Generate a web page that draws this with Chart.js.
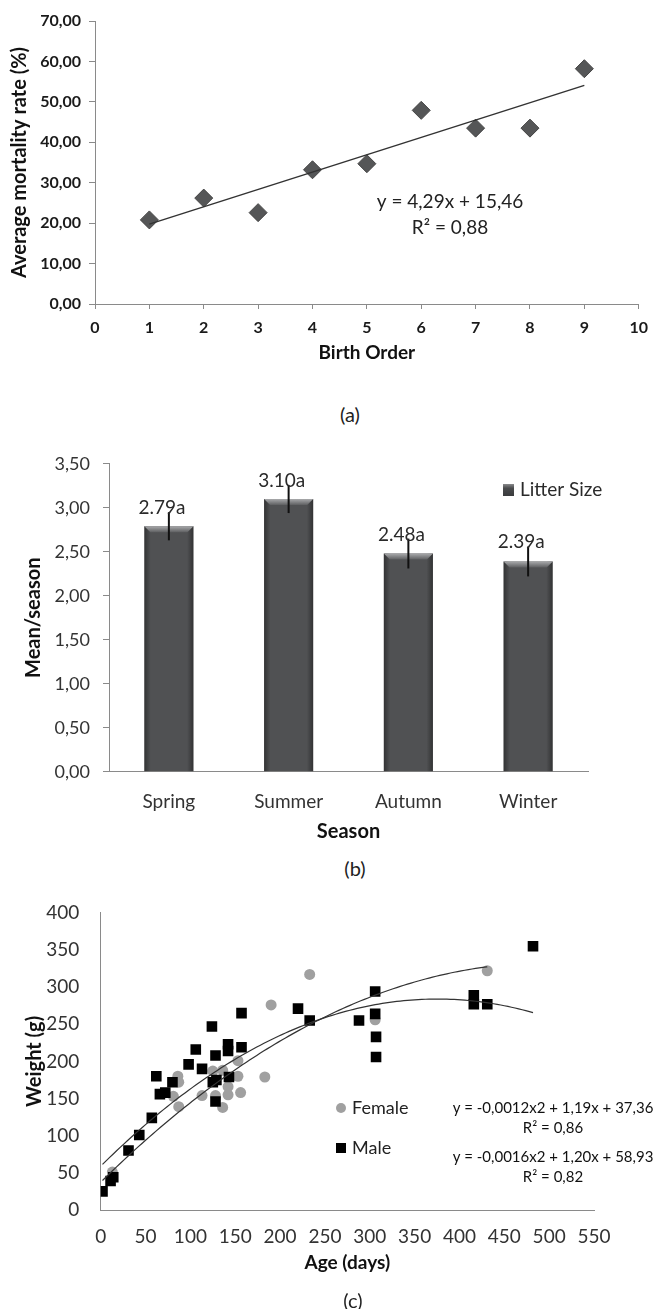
<!DOCTYPE html>
<html>
<head>
<meta charset="utf-8">
<title>Mortality, litter size and growth</title>
<script src="https://cdn.jsdelivr.net/npm/chart.js@4.4.1/dist/chart.umd.min.js"></script>
<style>
  body { margin: 0; background: #fff; }
  #page { position: relative; width: 657px; height: 1309px; overflow: hidden; font-family: Lato, sans-serif; }
  #page canvas { position: absolute; left: 0; }
  .cap { position: absolute; font-size: 20px; color: #222; transform: translate(-50%, -50%); line-height: 1; }
</style>
</head>
<body>
<div id="page">
  <canvas id="chartA" width="657" height="380" style="top:0"></canvas>
  <canvas id="chartB" width="657" height="410" style="top:440px"></canvas>
  <canvas id="chartC" width="657" height="429" style="top:880px"></canvas>
  <div class="cap" style="left:350px; top:414px">(a)</div>
  <div class="cap" style="left:355px; top:868px">(b)</div>
  <div class="cap" style="left:353px; top:1300px">(c)</div>
</div>
<script>
// (a) mortality by birth order
const birthOrder = [1, 2, 3, 4, 5, 6, 7, 8, 9];
const mortalityRate = [20.8, 26.2, 22.6, 33.2, 34.7, 47.9, 43.5, 43.5, 58.2];
const mortalityFit = [4.29, 15.46]; // slope, intercept
const ticksAx = [0, 1, 2, 3, 4, 5, 6, 7, 8, 9, 10];
const ticksAy = [0, 10, 20, 30, 40, 50, 60, 70];

// (b) litter size by season
const seasons = ['Spring', 'Summer', 'Autumn', 'Winter'];
const litterSize = [2.79, 3.10, 2.48, 2.39];
const litterErr = [0.16, 0.16, 0.17, 0.17];
const litterLabels = ['2.79a', '3.10a', '2.48a', '2.39a'];
const ticksBy = [0, 0.5, 1, 1.5, 2, 2.5, 3, 3.5];

// (c) weight by age
const femaleAge = [13, 86, 87, 81, 87, 113, 125, 128, 136, 136, 142, 142, 153, 153, 156, 183, 190, 233, 306, 431];
const femaleWeight = [51, 180, 172, 153, 139, 154, 187, 154, 138, 188, 166, 155, 201, 180, 158, 179, 276, 317, 256, 322];
const maleAge = [2, 11, 14, 31, 43, 57, 62, 66, 72, 80, 98, 106, 113, 124, 128, 125, 129, 128, 142, 142, 143, 157, 157,
                 220, 233, 288, 306, 306, 307, 307, 416, 416, 431, 482];
const maleWeight = [25, 39, 44, 80, 101, 124, 180, 156, 158, 172, 196, 216, 190, 247, 208, 172, 175, 146, 223, 214, 179, 219, 265,
                    271, 255, 255, 294, 264, 233, 206, 289, 277, 277, 355];
const femaleFit = [-0.0012, 1.19, 37.36];
const maleFit = [-0.0016, 1.20, 58.93];
const femaleFitRange = [2, 431];
const maleFitRange = [2, 482];
const ticksCx = [0, 50, 100, 150, 200, 250, 300, 350, 400, 450, 500, 550];
const ticksCy = [0, 50, 100, 150, 200, 250, 300, 350, 400];

Chart.defaults.font.family = 'Lato, sans-serif';
Chart.defaults.animation = false;
Chart.defaults.plugins.legend.display = false;
Chart.defaults.plugins.tooltip.enabled = false;

const comma = v => v.toFixed(2).replace('.', ',');
const useTicks = list => scale => { scale.ticks = list.map(v => ({ value: v })); };
const toPoints = (xs, ys) => xs.map((x, i) => ({ x: x, y: ys[i] }));

function quadCurve(c, range) {
  const pts = [];
  for (let x = range[0]; x < range[1]; x += 4) pts.push({ x: x, y: c[0] * x * x + c[1] * x + c[2] });
  pts.push({ x: range[1], y: c[0] * range[1] * range[1] + c[1] * range[1] + c[2] });
  return pts;
}

function notes(items) {
  return {
    id: 'notes',
    afterDraw(chart) {
      const ctx = chart.ctx;
      ctx.save();
      items.forEach(t => {
        ctx.font = t.font;
        ctx.fillStyle = t.color || '#222';
        ctx.textAlign = t.align || 'center';
        ctx.textBaseline = 'middle';
        ctx.fillText(t.text, t.x, t.y);
      });
      ctx.restore();
    }
  };
}

const axisGray = '#8a8a8a';

// ---------- (a) ----------
new Chart(document.getElementById('chartA'), {
  type: 'scatter',
  data: {
    datasets: [
      {
        label: 'Average mortality rate',
        data: toPoints(birthOrder, mortalityRate),
        pointStyle: 'rectRot',
        pointRadius: 9,
        backgroundColor: '#555657',
        borderColor: '#444',
        borderWidth: 1,
        order: 2
      },
      {
        label: 'Linear trend',
        data: [birthOrder[0], birthOrder[birthOrder.length - 1]].map(x => ({ x: x, y: mortalityFit[0] * x + mortalityFit[1] })),
        showLine: true,
        pointRadius: 0,
        borderColor: '#333',
        borderWidth: 1.5,
        order: 1
      }
    ]
  },
  options: {
    responsive: false,
    devicePixelRatio: 1,
    layout: { padding: { top: 21, right: 11, bottom: 0, left: 0 } },
    scales: {
      x: {
        type: 'linear', min: 0, max: 10,
        afterBuildTicks: useTicks(ticksAx),
        afterFit: s => { s.height = 76; },
        grid: { drawOnChartArea: false, drawTicks: true, tickLength: 5, color: axisGray },
        border: { color: axisGray },
        ticks: { padding: 9, color: '#1a1a1a', font: { size: 16, weight: 'bold' }, maxRotation: 0, autoSkip: false },
        title: { display: true, text: 'Birth Order', color: '#111', font: { size: 19, weight: 'bold' }, padding: { top: 0, bottom: 15.6 } }
      },
      y: {
        type: 'linear', min: 0, max: 70,
        afterBuildTicks: useTicks(ticksAy),
        afterFit: s => { s.width = 95; },
        grid: { drawOnChartArea: false, drawTicks: true, tickLength: 6, color: axisGray },
        border: { color: axisGray },
        ticks: { padding: 8, color: '#1a1a1a', font: { size: 16, weight: 'bold' }, callback: v => comma(v) },
        title: { display: true, text: 'Average mortality rate (%)', color: '#111', font: { size: 20, weight: 'bold' }, padding: { top: 8, bottom: 0 } }
      }
    }
  },
  plugins: [notes([
    { text: 'y = 4,29x + 15,46', x: 450, y: 202, font: '19px Lato', color: '#222' },
    { text: 'R\u00B2 = 0,88', x: 450, y: 228, font: '19px Lato', color: '#222' }
  ])]
});

// ---------- (b) ----------
const barDecor = {
  id: 'barDecor',
  afterDatasetsDraw(chart) {
    const ctx = chart.ctx;
    const yScale = chart.scales.y;
    const meta = chart.getDatasetMeta(0);
    ctx.save();
    meta.data.forEach((bar, i) => {
      const p = bar.getProps(['x', 'y', 'base', 'width'], true);
      const l = p.x - p.width / 2, r = p.x + p.width / 2;
      // side shading
      const g = ctx.createLinearGradient(l, 0, r, 0);
      g.addColorStop(0, 'rgba(0,0,0,0.38)');
      g.addColorStop(0.13, 'rgba(0,0,0,0)');
      g.addColorStop(0.87, 'rgba(0,0,0,0)');
      g.addColorStop(1, 'rgba(0,0,0,0.38)');
      ctx.fillStyle = g;
      ctx.fillRect(l, p.y, p.width, p.base - p.y);
      // top bevel
      const b = 6;
      const tg = ctx.createLinearGradient(0, p.y, 0, p.y + b);
      tg.addColorStop(0, '#a9aaac');
      tg.addColorStop(1, '#5e5f61');
      ctx.fillStyle = tg;
      ctx.beginPath();
      ctx.moveTo(l, p.y); ctx.lineTo(r, p.y); ctx.lineTo(r - b, p.y + b); ctx.lineTo(l + b, p.y + b);
      ctx.closePath();
      ctx.fill();
      // error bar
      const yTop = yScale.getPixelForValue(litterSize[i] + litterErr[i]);
      const yBot = yScale.getPixelForValue(litterSize[i] - litterErr[i]);
      ctx.strokeStyle = '#111';
      ctx.lineWidth = 2;
      ctx.beginPath();
      ctx.moveTo(p.x, yTop); ctx.lineTo(p.x, yBot);
      ctx.stroke();
      // value label
      ctx.font = '19px Lato';
      ctx.fillStyle = '#2a2a2a';
      ctx.textAlign = 'center';
      ctx.textBaseline = 'alphabetic';
      ctx.fillText(litterLabels[i], p.x - 7, yTop + 2);
    });
    // legend
    const lx = 503, ly = 44;
    const lg = ctx.createLinearGradient(0, ly, 0, ly + 12);
    lg.addColorStop(0, '#8a8b8d');
    lg.addColorStop(0.35, '#4a4b4d');
    lg.addColorStop(1, '#3a3b3d');
    ctx.fillStyle = lg;
    ctx.fillRect(lx, ly, 11, 12);
    ctx.font = '19px Lato';
    ctx.fillStyle = '#2a2a2a';
    ctx.textAlign = 'left';
    ctx.textBaseline = 'middle';
    ctx.fillText(chart.data.datasets[0].label, lx + 17, ly + 6);
    ctx.restore();
  }
};

new Chart(document.getElementById('chartB'), {
  type: 'bar',
  data: {
    labels: seasons,
    datasets: [{
      label: 'Litter Size',
      data: litterSize,
      backgroundColor: '#505153',
      borderWidth: 0,
      categoryPercentage: 1,
      barPercentage: 0.41
    }]
  },
  options: {
    responsive: false,
    devicePixelRatio: 1,
    layout: { padding: { top: 16.7, right: 69, bottom: 0, left: 0 } },
    scales: {
      x: {
        afterFit: s => { s.height = 78.3; },
        grid: { drawOnChartArea: false, drawTicks: false, color: axisGray },
        border: { color: axisGray },
        ticks: { padding: 18.6, color: '#333', font: { size: 19 } },
        title: { display: true, text: 'Season', color: '#111', font: { size: 20, weight: 'bold' }, padding: { top: 0, bottom: 6.3 } }
      },
      y: {
        type: 'linear', min: 0, max: 3.5,
        afterBuildTicks: useTicks(ticksBy),
        afterFit: s => { s.width = 109; },
        grid: { drawOnChartArea: false, drawTicks: true, tickLength: 6, color: axisGray },
        border: { color: axisGray },
        ticks: { padding: 13, color: '#333', font: { size: 18 }, callback: v => comma(v) },
        title: { display: true, text: 'Mean/season', color: '#111', font: { size: 20, weight: 'bold' }, padding: { top: 22, bottom: 0 } }
      }
    }
  },
  plugins: [barDecor]
});

// ---------- (c) ----------
const femaleGray = '#a0a0a0';

const legendC = {
  id: 'legendC',
  afterDraw(chart) {
    const ctx = chart.ctx;
    ctx.save();
    ctx.fillStyle = femaleGray;
    ctx.beginPath();
    ctx.arc(341, 228, 5, 0, Math.PI * 2);
    ctx.fill();
    ctx.fillStyle = '#000';
    ctx.fillRect(336, 263, 10, 10);
    ctx.font = '18px Lato';
    ctx.fillStyle = '#222';
    ctx.textAlign = 'left';
    ctx.textBaseline = 'middle';
    ctx.fillText(chart.data.datasets[0].label, 352, 228);
    ctx.fillText(chart.data.datasets[1].label, 352, 268);
    ctx.restore();
  }
};

new Chart(document.getElementById('chartC'), {
  type: 'scatter',
  data: {
    datasets: [
      {
        label: 'Female',
        data: toPoints(femaleAge, femaleWeight),
        pointStyle: 'circle',
        pointRadius: 5.5,
        backgroundColor: femaleGray,
        borderWidth: 0,
        order: 3
      },
      {
        label: 'Male',
        data: toPoints(maleAge, maleWeight),
        pointStyle: 'rect',
        pointRadius: 7.5,
        backgroundColor: '#000',
        borderWidth: 0,
        order: 2
      },
      {
        label: 'Female trend',
        data: quadCurve(femaleFit, femaleFitRange),
        showLine: true,
        pointRadius: 0,
        borderColor: '#333',
        borderWidth: 1.2,
        order: 1
      },
      {
        label: 'Male trend',
        data: quadCurve(maleFit, maleFitRange),
        showLine: true,
        pointRadius: 0,
        borderColor: '#333',
        borderWidth: 1.2,
        order: 1
      }
    ]
  },
  options: {
    responsive: false,
    devicePixelRatio: 1,
    layout: { padding: { top: 23, right: 63, bottom: 0, left: 0 } },
    scales: {
      x: {
        type: 'linear', min: 0, max: 550,
        afterBuildTicks: useTicks(ticksCx),
        afterFit: s => { s.height = 99; },
        grid: { drawOnChartArea: false, drawTicks: false, color: axisGray },
        border: { color: axisGray },
        ticks: { padding: 15.3, color: '#333', font: { size: 19 }, maxRotation: 0, autoSkip: false },
        title: { display: true, text: 'Age (days)', color: '#111', font: { size: 19, weight: 'bold' }, padding: { top: 0, bottom: 34.3 } }
      },
      y: {
        type: 'linear', min: 0, max: 400,
        afterBuildTicks: useTicks(ticksCy),
        afterFit: s => { s.width = 100.7; },
        grid: { drawOnChartArea: false, drawTicks: false, color: axisGray },
        border: { color: axisGray },
        ticks: { padding: 21.4, color: '#333', font: { size: 19 } },
        title: { display: true, text: 'Weight (g)', color: '#111', font: { size: 20, weight: 'bold' }, padding: { top: 23, bottom: 0 } }
      }
    }
  },
  plugins: [legendC, notes([
    { text: 'y = -0,0012x2 + 1,19x + 37,36', x: 553, y: 228, font: '15px Lato', color: '#111' },
    { text: 'R\u00B2 = 0,86', x: 553, y: 248, font: '15px Lato', color: '#111' },
    { text: 'y = -0,0016x2 + 1,20x + 58,93', x: 553, y: 277, font: '15px Lato', color: '#111' },
    { text: 'R\u00B2 = 0,82', x: 553, y: 297, font: '15px Lato', color: '#111' }
  ])]
});
</script>
</body>
</html>
